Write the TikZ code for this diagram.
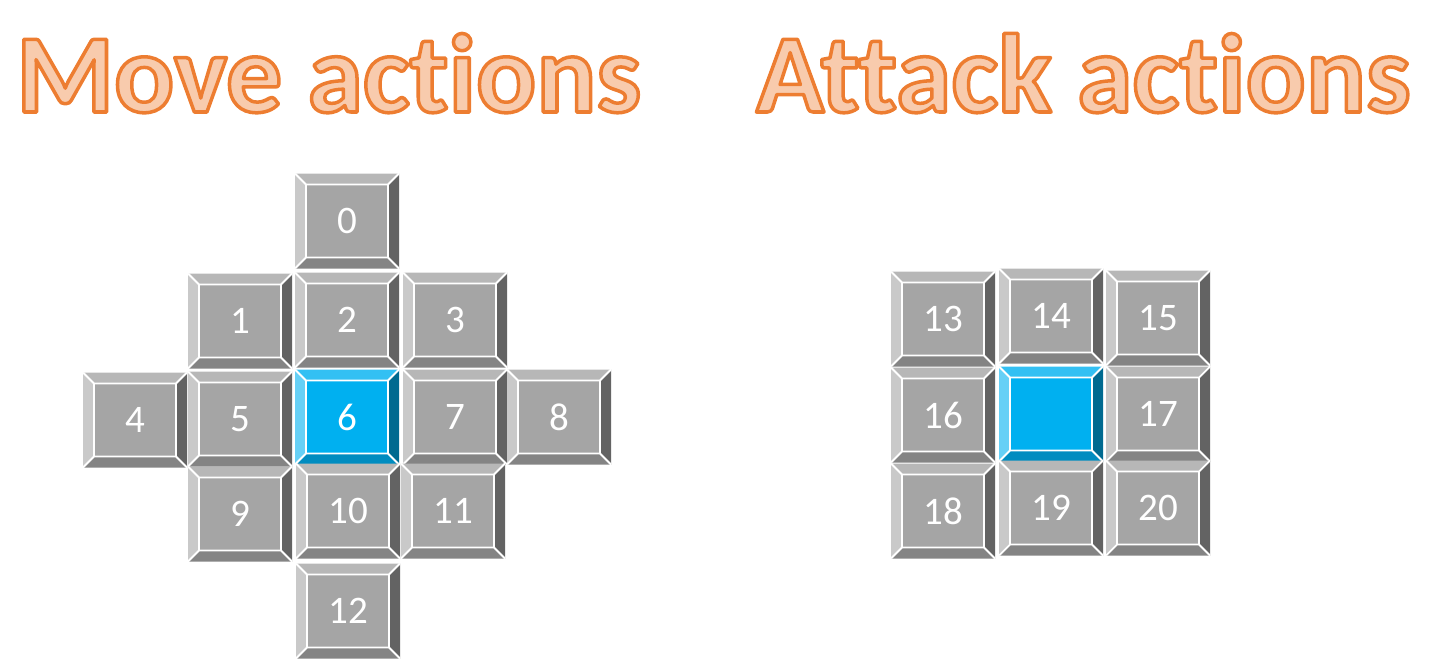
\documentclass[tikz,border=0pt]{standalone}
\usepackage{fontspec}
\setmainfont[Ligatures=CommonOff]{Carlito}
\usepackage{tikz}
\usetikzlibrary{positioning}
\definecolor{titleline}{HTML}{ED7D31}
\definecolor{titlefill}{HTML}{F8CBAD}
\definecolor{grayface}{HTML}{A5A5A5}
\definecolor{graytop}{HTML}{B7B7B7}
\definecolor{grayleft}{HTML}{C9C9C9}
\definecolor{grayright}{HTML}{636363}
\definecolor{graybot}{HTML}{848484}
\definecolor{blueface}{HTML}{00B0F0}
\definecolor{bluetop}{HTML}{33C0F3}
\definecolor{blueleft}{HTML}{66D0F6}
\definecolor{blueright}{HTML}{006A90}
\definecolor{bluebot}{HTML}{008CC0}
% stroked + filled glyphs for the headings
\newcommand\outlined[1]{\special{pdf:literal direct 2 Tr 3.5 w 1 j 0.929 0.490 0.192 RG}#1}
\tikzset{
    %Define style for headings
    heading/.style={
           inner sep=0pt,
           anchor=base west,
           text=titlefill,
           font=\fontsize{112}{120}\selectfont\bfseries},
    %Define bevelled key
    bevel/.style n args={5}{
           rectangle,
           inner sep=0pt,
           minimum width=104pt,
           minimum height=95pt,
           text=white,
           font=\fontsize{39}{44}\selectfont,
           path picture={
             \coordinate (nw) at (path picture bounding box.north west);
             \coordinate (ne) at (path picture bounding box.north east);
             \coordinate (sw) at (path picture bounding box.south west);
             \coordinate (se) at (path picture bounding box.south east);
             \coordinate (inw) at ([shift={(11pt,-11pt)}]nw);
             \coordinate (ine) at ([shift={(-11pt,-11pt)}]ne);
             \coordinate (isw) at ([shift={(11pt,11pt)}]sw);
             \coordinate (ise) at ([shift={(-11pt,11pt)}]se);
             \fill[#1] (nw) -- (ne) -- (ine) -- (inw) -- cycle;
             \fill[#2] (nw) -- (inw) -- (isw) -- (sw) -- cycle;
             \fill[#3] (ne) -- (se) -- (ise) -- (ine) -- cycle;
             \fill[#4] (sw) -- (isw) -- (ise) -- (se) -- cycle;
             \fill[#5] (inw) rectangle (ise);
             \draw[white, line width=1.8pt] (inw) rectangle (ise)
                (nw) -- (inw) (ne) -- (ine) (sw) -- (isw) (se) -- (ise);
           }},
    graykey/.style={bevel={graytop}{grayleft}{grayright}{graybot}{grayface}},
    bluekey/.style={bevel={bluetop}{blueleft}{blueright}{bluebot}{blueface}}
}
\begin{document}
\begin{tikzpicture}[x=1pt,y=1pt]
\useasboundingbox (0,0) rectangle (1431,-661);

 %headings
\node[heading] (movetitle) at (16,-112) {\outlined{Move actions}};
\node[heading] (attacktitle) at (756,-112) {\outlined{Attack actions}};

 %move keys
\node[graykey] (m0) at (347,-221) {0};
\node[graykey] (m1) at (240,-321) {1};
\node[graykey] (m2) at (347,-320) {2};
\node[graykey] (m3) at (455,-320) {3};
\node[graykey] (m4) at (135,-420) {4};
\node[graykey] (m5) at (240,-419) {5};
\node[bluekey] (m6) at (347,-417) {6};
\node[graykey] (m7) at (455,-417) {7};
\node[graykey] (m8) at (559,-417) {8};
\node[graykey] (m9) at (240,-514) {9};
\node[graykey] (m10) at (348,-511) {10};
\node[graykey] (m11) at (453,-511) {11};
\node[graykey] (m12) at (348,-611) {12};

 %attack keys
\node[graykey] (a13) at (943,-319) {13};
\node[graykey] (a14) at (1051,-316) {14};
\node[graykey] (a15) at (1158,-318) {15};
\node[graykey] (a16) at (943,-415) {16};
\node[bluekey] (self) at (1051,-414) {};
\node[graykey] (a17) at (1158,-414) {17};
\node[graykey] (a18) at (943,-511) {18};
\node[graykey] (a19) at (1051,-508) {19};
\node[graykey] (a20) at (1158,-508) {20};
\end{tikzpicture}
\end{document}
